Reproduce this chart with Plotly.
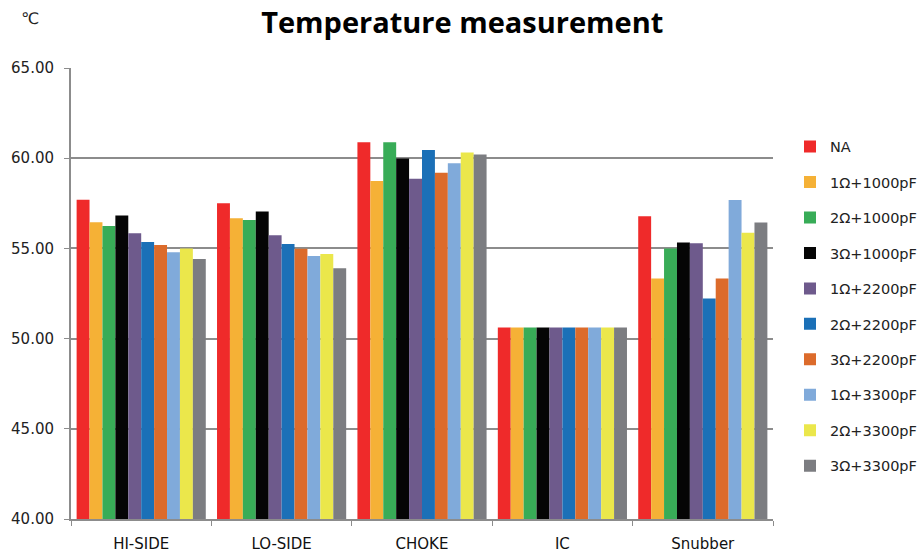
import plotly.graph_objects as go

categories = ["HI-SIDE", "LO-SIDE", "CHOKE", "IC", "Snubber"]
series_names = ["NA", "1Ω+1000pF", "2Ω+1000pF", "3Ω+1000pF", "1Ω+2200pF",
                "2Ω+2200pF", "3Ω+2200pF", "1Ω+3300pF", "2Ω+3300pF", "3Ω+3300pF"]
NA = [57.7, 57.5, 60.88, 50.62, 56.78]
r1c1000 = [56.45, 56.67, 58.74, 50.62, 53.33]
r2c1000 = [56.24, 56.57, 60.88, 50.62, 54.99]
r3c1000 = [56.83, 57.05, 59.99, 50.62, 55.33]
r1c2200 = [55.84, 55.73, 58.86, 50.62, 55.28]
r2c2200 = [55.35, 55.24, 60.45, 50.62, 52.22]
r3c2200 = [55.19, 54.98, 59.2, 50.62, 53.33]
r1c3300 = [54.78, 54.58, 59.72, 50.62, 57.68]
r2c3300 = [55.0, 54.69, 60.31, 50.62, 55.87]
r3c3300 = [54.41, 53.9, 60.2, 50.62, 56.43]
series_values = [NA, r1c1000, r2c1000, r3c1000, r1c2200,
                 r2c2200, r3c2200, r1c3300, r2c3300, r3c3300]
colors = ["#EF2A2A", "#F5B136", "#38AC57", "#050505", "#6E5A8C",
          "#1B70B7", "#DC6B2B", "#80AADA", "#EBE74B", "#7C7D81"]
y_ticks = [40, 45, 50, 55, 60, 65]

fig = go.Figure()
for i, (name, vals, col) in enumerate(zip(series_names, series_values, colors)):
    fig.add_trace(go.Bar(x=categories, y=vals, name=name, marker_color=col,
                         marker_line_width=0, legendgroup=f"g{i}"))

font_main = "DejaVu Sans, sans-serif"
fig.update_layout(
    width=919, height=560,
    margin=dict(l=71, r=146, t=68, b=41),
    paper_bgcolor="white", plot_bgcolor="white",
    barmode="group", bargap=0.08, bargroupgap=0,
    showlegend=True,
    legend=dict(xref="container", x=790 / 919, y=0.861, xanchor="left", yanchor="top",
                font=dict(family=font_main, size=14.5, color="#222222"),
                tracegroupgap=13.6, itemwidth=30, bgcolor="rgba(0,0,0,0)"),
    title=dict(text="<b>Temperature measurement</b>", x=0.503, xanchor="center",
               y=0.96, yanchor="middle",
               font=dict(family="Open Sans, sans-serif", size=29, color="black")),
    annotations=[dict(text="℃", xref="paper", yref="paper", x=-0.058, y=1.11,
                      xanchor="center", yanchor="middle", showarrow=False,
                      font=dict(family=font_main, size=16, color="#222222"))],
)
fig.update_yaxes(range=[40, 65], tickvals=y_ticks, tickformat=".2f",
                 showgrid=True, gridcolor="#8C8C8C", gridwidth=2,
                 showline=True, linecolor="#8C8C8C", linewidth=2,
                 ticks="outside", ticklen=5, tickcolor="#8C8C8C",
                 ticklabelstandoff=7, automargin=False,
                 tickfont=dict(family=font_main, size=15, color="#222222"),
                 zeroline=False)
fig.update_xaxes(showline=True, linecolor="#8C8C8C", linewidth=2,
                 ticks="outside", ticklen=5, tickcolor="#8C8C8C", tickson="boundaries",
                 ticklabelstandoff=10, automargin=False,
                 tickfont=dict(family=font_main, size=15, color="#111111"))

fig.write_html("out.html")
